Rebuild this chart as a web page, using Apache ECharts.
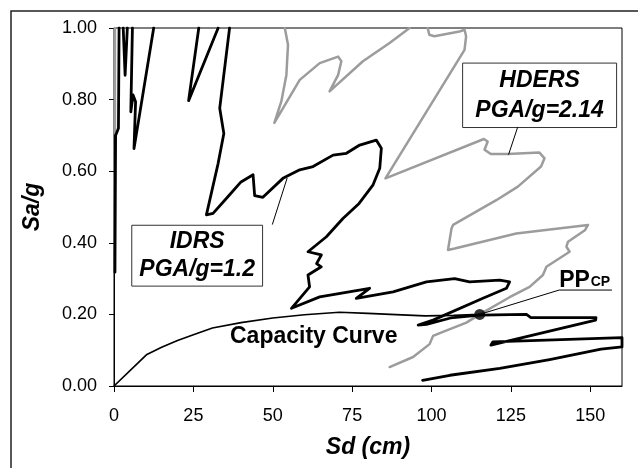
<!DOCTYPE html>
<html>
<head>
<meta charset="utf-8">
<script src="https://cdn.jsdelivr.net/npm/echarts@6/dist/echarts.min.js"></script>
<style>
html, body { margin: 0; padding: 0; background: #fff; }
#chart { width: 638px; height: 468px; }
</style>
</head>
<body>
<div id="chart"></div>
<script>
// axis ticks
var xTicks = [0, 25, 50, 75, 100, 125, 150];
var yTicks = [0, 0.2, 0.4, 0.6, 0.8, 1.0];

// capacity curve [Sd (cm), Sa/g]
var capacityCurve = [
    [0, 0], [10.2, 0.087], [15, 0.108], [20, 0.127], [25, 0.143], [31, 0.162],
    [40, 0.177], [50, 0.19], [60, 0.199], [71, 0.206], [80, 0.203], [87, 0.2],
    [98, 0.196], [107, 0.197], [115.2, 0.2]
];

// IDRS spectrum, PGA/g = 1.2 (null = leaves the plot)
var idrsSpectrum = [
    [0.3, 0.318], [0.5, 0.70], [1.4, 0.72], [1.6, 1.0], null,
    [2.9, 1.0], [3.5, 0.868], [4.2, 1.0], null,
    [5.8, 1.0], [5.3, 0.766], [6.0, 0.813], [6.8, 0.794], [6.3, 0.663], [12.5, 1.0], null,
    [26.7, 1.0], [23.5, 0.797], [32.8, 1.0], null,
    [36.4, 1.0], [33.3, 0.776], [34.6, 0.705], [32.8, 0.622], [29.1, 0.478], [31.2, 0.482],
    [36, 0.53], [40, 0.57], [43.8, 0.59], [44.3, 0.532], [46.9, 0.527], [53.2, 0.58],
    [58.5, 0.604], [62.7, 0.613], [69, 0.645], [73.2, 0.65], [77.4, 0.673], [82.6, 0.687],
    [84.2, 0.664], [83.7, 0.608], [81.6, 0.562], [77.2, 0.51], [72.1, 0.468], [66.9, 0.417],
    [61.1, 0.375], [65.3, 0.366], [63.8, 0.342], [65.3, 0.333], [61.1, 0.31], [61.6, 0.277],
    [55.9, 0.217], [64.8, 0.249], [80.5, 0.273], [76.3, 0.245], [87.9, 0.263], [98.4, 0.291],
    [107.3, 0.30], [112, 0.291], [121.5, 0.296], [124.6, 0.291], [123.6, 0.273], [116.2, 0.245],
    [100.5, 0.184], [95.8, 0.17], [98.4, 0.172], [106, 0.19], [115.2, 0.198], [129.9, 0.2],
    [131.3, 0.191], [151.8, 0.191], [151.7, 0.184], [118.7, 0.114], [119.3, 0.123],
    [160, 0.135], [160, 0.109], [153.4, 0.103], [137.2, 0.074], [121.5, 0.049],
    [105.8, 0.03], [97.2, 0.016]
];

// HDERS spectrum, PGA/g = 2.14
var hdersSpectrum = [
    [0.3, 1.0], [0.3, 0.705], null,
    [53.8, 1.0], [54.8, 0.953], [54.3, 0.869], [52.7, 0.795], [50.5, 0.735], [58.5, 0.855],
    [64.8, 0.902], [70.6, 0.92], [71.6, 0.907], [70.6, 0.869], [67.9, 0.823], [78.4, 0.907],
    [86.8, 0.958], [93.1, 1.0], null,
    [98.8, 1.0], [99.3, 0.981], [100.9, 0.977], [108.8, 0.99], [110.4, 0.995], [110.9, 0.977],
    [110.4, 0.939], [85.5, 0.58], [116.5, 0.69], [117.7, 0.683], [116.7, 0.66], [118.7, 0.648],
    [124, 0.648], [134, 0.652], [135.6, 0.636], [134.5, 0.613], [127.2, 0.557], [120.4, 0.519],
    [106.8, 0.45], [106.3, 0.44], [105.2, 0.38], [107.3, 0.384], [126.7, 0.426], [149.3, 0.45],
    [148.3, 0.435], [143, 0.403], [142.5, 0.389], [143.5, 0.375], [136.2, 0.333], [135.1, 0.31],
    [130.9, 0.277], [124.6, 0.248], [115.2, 0.2], [111, 0.177], [103.6, 0.151], [100.5, 0.14],
    [99.4, 0.117], [94.2, 0.081], [86.8, 0.053]
];

// performance point
var performancePoint = [[115.2, 0.2]];

var FONT = "'Liberation Sans', Arial, sans-serif";

function splitPieces(points) {
    var out = [], cur = [];
    points.forEach(function (p) {
        if (p === null) {
            if (cur.length) out.push(cur);
            cur = [];
        } else {
            cur.push(p);
        }
    });
    if (cur.length) out.push(cur);
    return out;
}

function lineSeries(data, color, width, z) {
    return {
        type: 'line', data: data, symbol: 'none', silent: true, z: z,
        lineStyle: { color: color, width: width, join: 'round', cap: 'round' }, animation: false
    };
}

var chart = echarts.init(document.getElementById('chart'));

var series = [];
splitPieces(hdersSpectrum).forEach(function (p) { series.push(lineSeries(p, '#9c9c9c', 2.5, 2)); });
splitPieces(idrsSpectrum).forEach(function (p) { series.push(lineSeries(p, '#000', 2.8, 3)); });
series.push(lineSeries(capacityCurve, '#000', 1.7, 4));
// leader lines
series.push(lineSeries([[49.9, 0.452], [54.5, 0.58]], '#000', 1, 5));
series.push(lineSeries([[127.1, 0.722], [124.3, 0.647]], '#000', 1, 5));
series.push(lineSeries([[115.2, 0.2], [140.2, 0.268], [156.7, 0.268]], '#000', 1, 5));
series.push({
    type: 'scatter', data: performancePoint, symbol: 'circle', symbolSize: 11,
    itemStyle: { color: '#000' }, z: 6, silent: true, animation: false
});

chart.setOption({
    animation: false,
    grid: { left: 114, right: 16, top: 28, bottom: 82, show: true, borderColor: '#000', borderWidth: 1 },
    xAxis: {
        type: 'value', min: 0, max: 160, interval: 25,
        name: 'Sd (cm)', nameLocation: 'middle', nameGap: 50,
        nameTextStyle: { fontFamily: FONT, fontSize: 23, fontWeight: 'bold', fontStyle: 'italic', color: '#000' },
        axisLine: { lineStyle: { color: '#000', width: 1 } },
        axisTick: { show: true, inside: false, length: 6, customValues: xTicks, lineStyle: { color: '#000' } },
        axisLabel: { customValues: xTicks, margin: 21, fontFamily: FONT, fontSize: 18, color: '#000' },
        splitLine: { show: false }
    },
    yAxis: {
        type: 'value', min: 0, max: 1, interval: 0.2,
        name: 'Sa/g', nameLocation: 'middle', nameGap: 70,
        nameTextStyle: { fontFamily: FONT, fontSize: 23, fontWeight: 'bold', fontStyle: 'italic', color: '#000' },
        axisLine: { show: true, lineStyle: { color: '#000', width: 1 } },
        axisTick: { show: true, inside: false, length: 5, lineStyle: { color: '#000' } },
        axisLabel: {
            margin: 17, fontFamily: FONT, fontSize: 18, color: '#000',
            formatter: function (v) { return v.toFixed(2); }
        },
        splitLine: { show: false }
    },
    series: series
});

function px(pt) { return chart.convertToPixel({ gridIndex: 0 }, pt); }

function labelBox(tl, br, lines, lh) {
    var a = px(tl), b = px(br);
    return {
        type: 'group', z: 20,
        children: [
            { type: 'rect', shape: { x: a[0], y: a[1], width: b[0] - a[0], height: b[1] - a[1] },
              style: { fill: '#fff', stroke: '#333', lineWidth: 1 } },
            { type: 'text', x: (a[0] + b[0]) / 2, y: (a[1] + b[1]) / 2,
              style: { text: lines.join('\n'), font: 'italic bold 23px ' + FONT, fill: '#000',
                       align: 'center', verticalAlign: 'middle', lineHeight: lh } }
        ]
    };
}

var capPos = px([62.9, 0.138]);
var ppPos = px([140.2, 0.268]);

chart.setOption({
    graphic: [
        { type: 'rect', shape: { x: 11, y: 11, width: 700, height: 500 },
          style: { fill: 'none', stroke: '#222', lineWidth: 1.5 }, z: 30, silent: true },
        labelBox([5.6, 0.449], [46.8, 0.279], ['IDRS', 'PGA/g=1.2'], 28),
        labelBox([109.8, 0.902], [158.3, 0.722], ['HDERS', 'PGA/g=2.14'], 30),
        { type: 'text', x: capPos[0], y: capPos[1], z: 20,
          style: { text: 'Capacity Curve', font: 'bold 23px ' + FONT, fill: '#000',
                   align: 'center', verticalAlign: 'middle' } },
        { type: 'text', x: ppPos[0], y: ppPos[1] - 9.5, z: 20,
          style: { text: 'PP', font: 'bold 23px ' + FONT, fill: '#000',
                   align: 'left', verticalAlign: 'middle' } },
        { type: 'text', x: ppPos[0] + 31.5, y: ppPos[1] - 8, z: 20,
          style: { text: 'CP', font: 'bold 14px ' + FONT, fill: '#000',
                   align: 'left', verticalAlign: 'middle' } }
    ]
});
</script>
</body>
</html>
